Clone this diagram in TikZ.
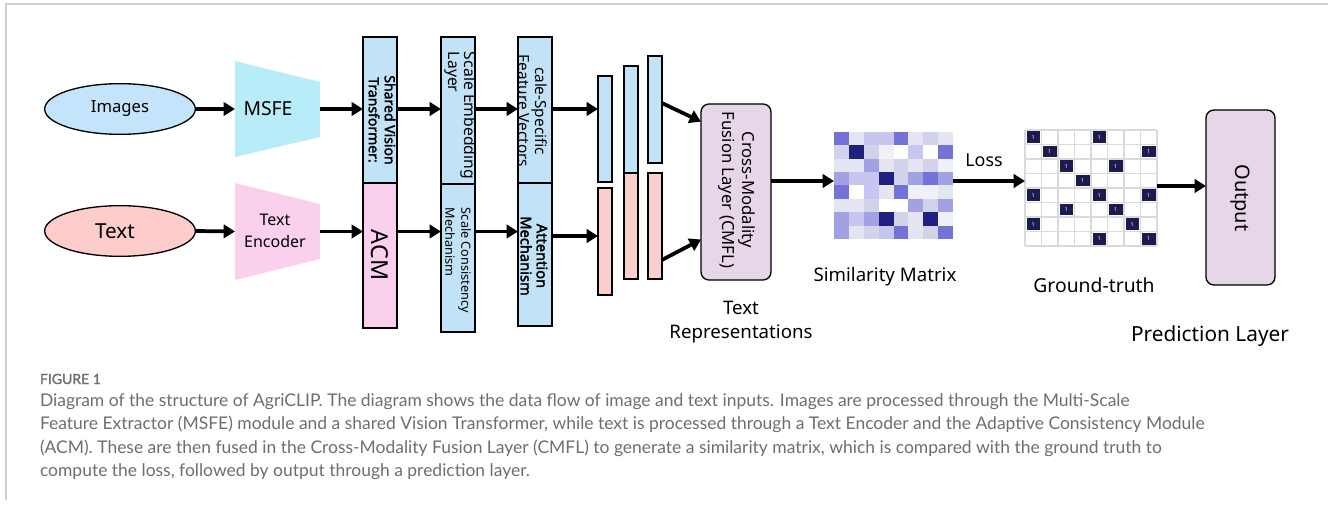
\documentclass[tikz,border=0pt]{standalone}
\usepackage{fontspec}
\setmainfont{Noto Sans}[AutoFakeBold=2.2]
\newfontfamily\capfont{Lato}[AutoFakeBold=1.5]
\usetikzlibrary{fit,calc,arrows.meta,shapes.geometric}

\newcommand\fsz[2]{\fontsize{#1}{#2}\selectfont}

\definecolor{framegray}{HTML}{CFCFCF}
\definecolor{imgblue}{HTML}{C4E4FB}
\definecolor{txtpink}{HTML}{FFCCCC}
\definecolor{msfecyan}{HTML}{B8ECF8}
\definecolor{encpink}{HTML}{FBD0EC}
\definecolor{boxblue}{HTML}{C2E2F8}
\definecolor{barpink}{HTML}{FCCFCF}
\definecolor{fusepurple}{HTML}{E6D6E8}
\definecolor{gtnavy}{HTML}{1B1B50}
\definecolor{gtgrid}{HTML}{DADADA}
\definecolor{capgray}{HTML}{6E6E6E}
% shades of the similarity matrix
\definecolor{smW}{HTML}{FFFFFF}
\definecolor{smA}{HTML}{F0F0F8}
\definecolor{smB}{HTML}{E4E4F2}
\definecolor{smC}{HTML}{D2D2EA}
\definecolor{smD}{HTML}{C6C6F0}
\definecolor{smE}{HTML}{A2A2E2}
\definecolor{smF}{HTML}{7272D8}
\definecolor{smG}{HTML}{202080}

\begin{document}
\begin{tikzpicture}[x=0.75pt,y=-0.75pt,
  every node/.style={inner sep=0pt, outer sep=0pt},
  arr/.style={line width=2.8pt, -{Triangle[length=8.5pt,width=10pt]}},
  box/.style={draw=black, line width=1pt, inner sep=0pt},
  area/.style={inner sep=0pt},
  vlabel/.style={rotate=-90, align=center}]
\useasboundingbox (0,0) rectangle (1328,506);

% page frame
\draw[framegray, line width=1.1pt] (6,500) -- (6,4) -- (1328,4);

% inputs
\node[ellipse, draw, line width=1pt, fill=imgblue, minimum width=113pt, minimum height=38pt] (img) at (120,109) {};
\node[font=\fsz{12.5}{15}] (imgt) at (120,109) {Images};
\node[ellipse, draw, line width=1pt, fill=txtpink, minimum width=113pt, minimum height=38pt] (txt) at (120,231) {};
\node[font=\fsz{15.5}{18}] (txtt) at (115,231) {Text};

% encoders
\fill[msfecyan] (235,61) -- (320,82) -- (320,137) -- (235,157) -- cycle;
\node[area, fit={(235,61)(320,157)}] (msfe) {};
\node[font=\fsz{14.5}{16}] (msfet) at (268,109) {MSFE};
\fill[encpink] (235,183) -- (320,204) -- (320,259) -- (235,280) -- cycle;
\node[area, fit={(235,183)(320,280)}] (te) {};
\node[font=\fsz{12}{17}, align=center] (tet) at (275,231) {Text\\Encoder};

% stacked layer columns
\node[box, fill=boxblue, fit={(363,37)(397,183)}] (sv) {};
\node[box, fill=encpink, fit={(363,183)(397,328)}] (acm) {};
\node[box, fill=boxblue, fit={(441,37)(475,184)}] (sel) {};
\node[box, fill=boxblue, fit={(441,184)(475,332)}] (scm) {};
\node[box, fill=boxblue, fit={(518,37)(552,183)}] (sfv) {};
\node[box, fill=boxblue, fit={(518,183)(552,326)}] (att) {};

\node[vlabel, font=\fsz{10.5}{12}\bfseries] (svt) at (382,120) {Shared Vision\\Transformer:};
\node[rotate=-90, font=\fsz{17.5}{20}] (acmt) at (380,255) {ACM};
\node[rotate=-90, align=left, anchor=west, font=\fsz{11.8}{12}] (selt) at (461,52) {Scale Embedding\\Layer};
\node[rotate=-90, align=left, anchor=west, font=\fsz{9.5}{12}] (scmt) at (458,208) {Scale Consistency\\Mechanism};
\node[vlabel, font=\fsz{11.5}{12.5}] (sfvt) at (533,111) {cale-Specific\\Feature Vectors};
\node[vlabel, font=\fsz{11}{12}\bfseries] (attt) at (534,256) {Attention\\Mechanism};

% feature vectors
\node[box, fill=boxblue, fit={(598,76)(612,182)}] (barAt) {};
\node[box, fill=barpink, fit={(598,188)(612,295)}] (barAb) {};
\node[box, fill=boxblue, fit={(624,66)(638,173)}] (barBt) {};
\node[box, fill=barpink, fit={(624,173)(638,279)}] (barBb) {};
\node[box, fill=boxblue, fit={(648,56)(662,163)}] (barCt) {};
\node[box, fill=barpink, fit={(648,173)(662,279)}] (barCb) {};

% fusion layer
\node[box, fill=fusepurple, rounded corners=6pt, fit={(701,104)(771,280)}] (cmfl) {};
\node[vlabel, font=\fsz{12.5}{15}] (cmflt) at (737,190) {Cross-Modality\\Fusion Layer (CMFL)};
\node[font=\fsz{14}{18}, align=center] (trep) at (741,322) {Text\\Representations};

% similarity matrix
\node[area, fit={(834,132)(953,239)}] (sim) {};
\foreach \row [count=\r from 0] in {
  {F,B,D,D,F,B,C,B},
  {C,G,C,A,W,D,W,F},
  {B,B,E,B,C,B,C,A},
  {E,D,D,G,C,E,F,E},
  {F,W,D,B,F,A,A,B},
  {B,B,C,W,W,E,C,E},
  {E,D,E,G,C,B,G,A},
  {E,B,C,D,F,B,C,F}}{
  \foreach \c [count=\k from 0] in \row {
    \fill[sm\c] (834+\k*14.875,132+\r*13.375) rectangle ++(14.875,13.375);
  }
}
\node[font=\fsz{14}{16}] (simt) at (885,277) {Similarity Matrix};
\node[font=\fsz{13.4}{16}] (losst) at (984,160) {Loss};

% ground-truth matrix
\node[area, fit={(1025,130)(1157,246)}] (gt) {};
\foreach \k in {0,...,8}{
  \draw[gtgrid, line width=0.8pt] (1025+\k*16.5,130) -- (1025+\k*16.5,246);
  \draw[gtgrid, line width=0.8pt] (1025,130+\k*14.5) -- (1157,130+\k*14.5);
}
\foreach \r/\k in {0/0,0/4,1/1,1/7,2/2,2/5,3/3,4/0,4/4,4/7,5/2,5/5,6/0,6/6,7/4,7/7}{
  \fill[gtnavy] (1025+\k*16.5+1.5,130+\r*14.5+1.5) rectangle ++(13.5,11.5);
  \node[text=white, font=\fsz{4}{5}] at (1025+\k*16.5+8.25,130+\r*14.5+7.25) {1};
}
\node[font=\fsz{14.5}{16}] (gtt) at (1094,285) {Ground-truth};

% output
\node[box, fill=fusepurple, rounded corners=6pt, fit={(1206,110)(1275,285)}] (out) {};
\node[rotate=-90, font=\fsz{15}{18}] (outt) at (1240,198) {Output};
\node[font=\fsz{15.6}{18}] (predt) at (1210,336) {Prediction Layer};

% data flow
\coordinate (lowrow) at (0,236);
\coordinate (midrow) at (0,181);
\coordinate (outrow) at (0,186);
\draw[arr] (img.east) -- (msfe.west);
\draw[arr] (txt.east) -- (te.west);
\draw[arr] (msfe.east) -- (msfe.east -| sv.west);
\draw[arr] (te.east) -- (te.east -| acm.west);
\draw[arr] (sv.east |- msfe.east) -- (sel.west |- msfe.east);
\draw[arr] (acm.east |- te.east) -- (scm.west |- te.east);
\draw[arr] (sel.east |- msfe.east) -- (sfv.west |- msfe.east);
\draw[arr] (scm.east |- te.east) -- (att.west |- te.east);
\draw[arr] (sfv.east |- msfe.east) -- (barAt.west |- msfe.east);
\draw[arr] (att.east |- lowrow) -- (barAb.west |- lowrow);
\draw[arr] ($(barCt.north east)!0.44!(barCt.south east)$) -- ($(cmfl.north west)!0.1!(cmfl.south west)$);
\draw[arr] ($(barCb.north east)!0.82!(barCb.south east)$) -- ($(cmfl.north west)!0.77!(cmfl.south west)$);
\draw[arr] (cmfl.east |- midrow) -- (sim.west |- midrow);
\draw[arr] (sim.east |- midrow) -- (gt.west |- midrow);
\draw[arr] (gt.east |- outrow) -- (out.west |- outrow);

% caption
\node[anchor=base west, text=capgray, font=\capfont\bfseries\fsz{10.5}{12}] (figno) at (40,384) {FIGURE 1};
\begin{scope}[every node/.append style={anchor=base west, text=capgray, font=\capfont\fsz{13.1}{14}}]
\node (cap1) at (40,406) {Diagram of the structure of AgriCLIP. The diagram shows the data flow of image and text inputs. Images are processed through the Multi-Scale};
\node (cap2) at (40,429) {Feature Extractor (MSFE) module and a shared Vision Transformer, while text is processed through a Text Encoder and the Adaptive Consistency Module};
\node (cap3) at (40,453) {(ACM). These are then fused in the Cross-Modality Fusion Layer (CMFL) to generate a similarity matrix, which is compared with the ground truth to};
\node (cap4) at (40,476) {compute the loss, followed by output through a prediction layer.};
\end{scope}
\end{tikzpicture}
\end{document}
